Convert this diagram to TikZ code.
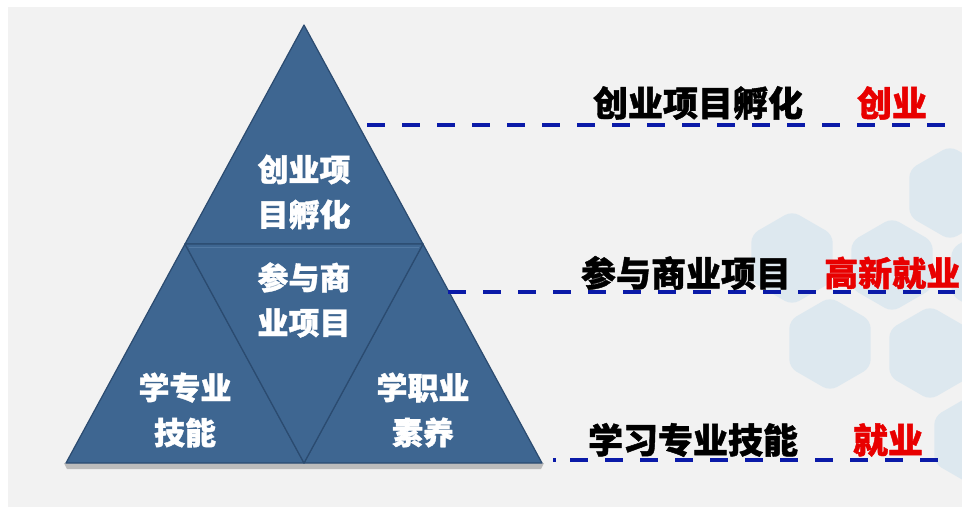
\documentclass[tikz,border=0pt]{standalone}
\usepackage{fontspec}
\usetikzlibrary{calc}
\newfontfamily\cjk{Noto Sans CJK SC}[BoldFeatures={FakeBold=1.2}]
\definecolor{bggray}{HTML}{F2F2F2}
\definecolor{triblue}{HTML}{3E6691}
\definecolor{tridark}{HTML}{2B4B70}
\definecolor{trilight}{HTML}{5A80AA}
\definecolor{lineblue}{HTML}{0A1AA8}
\definecolor{hexblue}{HTML}{D8E6EF}
\definecolor{labelred}{HTML}{E80000}
\tikzset{
  tri/.style={fill=triblue, draw=tridark, line width=1.2pt, line join=round},
  intxt/.style={font=\cjk\bfseries\fontsize{31}{45}\selectfont, text=white, align=center, inner sep=0pt},
  lbl/.style={font=\cjk\bfseries\fontsize{35}{40}\selectfont, text=black, inner sep=0pt},
  reslbl/.style={font=\cjk\bfseries\fontsize{35}{40}\selectfont, text=labelred, inner sep=0pt},
  dashline/.style={draw=lineblue, line width=3.8pt, dash pattern=on 18pt off 17pt},
  hexa/.style={fill=hexblue, rounded corners=8pt, opacity=0.8}
}
\begin{document}
\begin{tikzpicture}[x=1pt,y=-1pt]
\useasboundingbox (0,0) rectangle (962,507);
\clip (0,0) rectangle (962,507);
\fill[white] (0,0) rectangle (962,507);
\fill[bggray] (8,7) rectangle (962,507);
% background hexagons
\foreach \cx/\cy in {950/193, 792/258, 892/265, 992/272, 830/344, 930/353, 975/440} {
  \fill[hexa] (\cx,\cy) +(90:47) -- +(150:47) -- +(210:47) -- +(270:47) -- +(330:47) -- +(30:47) -- cycle;
}
% triangle shadow
\fill[black, opacity=0.22] (64,463) -- (544,463) -- (541,469) -- (67,469) -- cycle;
% triangle corners
\coordinate (apex) at (304,25);
\coordinate (bl) at (66,463);
\coordinate (br) at (542,463);
\coordinate (bm) at (304,463);
\coordinate (ml) at (185,244);
\coordinate (mr) at (423,244);
\filldraw[tri] (apex) -- (ml) -- (mr) -- cycle;
\filldraw[tri] (ml) -- (bl) -- (bm) -- cycle;
\filldraw[tri] (mr) -- (bm) -- (br) -- cycle;
\filldraw[tri] (ml) -- (mr) -- (bm) -- cycle;
\draw[trilight, line width=0.6pt, opacity=0.7] ($(ml)+(4,3)$) -- ($(mr)+(-4,3)$);
% triangle texts
\node[intxt] (top) at (304,192) {创业项\\目孵化};
\node[intxt] (mid) at (304,300) {参与商\\业项目};
\node[intxt] (lft) at (185,410) {学专业\\技能};
\node[intxt] (rgt) at (423,410) {学职业\\素养};
% dashed lines
\coordinate (d1s) at (367,125);
\coordinate (d1e) at (955,125);
\coordinate (d2s) at (448,292);
\coordinate (d2e) at (955,292);
\coordinate (d3s) at (553,460);
\coordinate (d3e) at (945,460);
\draw[dashline] (d1s) -- (d1e);
\draw[dashline] (d2s) -- (d2e);
\draw[dashline, dash pattern=on 3pt off 14pt on 18pt off 17pt on 18pt off 17pt on 18pt off 17pt on 18pt off 17pt on 18pt off 17pt on 18pt off 17pt on 18pt off 17pt on 18pt off 17pt on 18pt off 17pt on 18pt off 17pt on 18pt off 17pt] (d3s) -- (d3e);
% labels
\node[lbl] (l1) at (698,103) {创业项目孵化};
\node[reslbl] (r1) at (892,103) {创业};
\node[lbl] (l2) at (686,273) {参与商业项目};
\node[reslbl, anchor=west, font=\cjk\bfseries\fontsize{34}{40}\selectfont] (r2) at (824,273) {高新就业};
\node[lbl] (l3) at (693,440) {学习专业技能};
\node[reslbl] (r3) at (888,440) {就业};
\end{tikzpicture}
\end{document}
